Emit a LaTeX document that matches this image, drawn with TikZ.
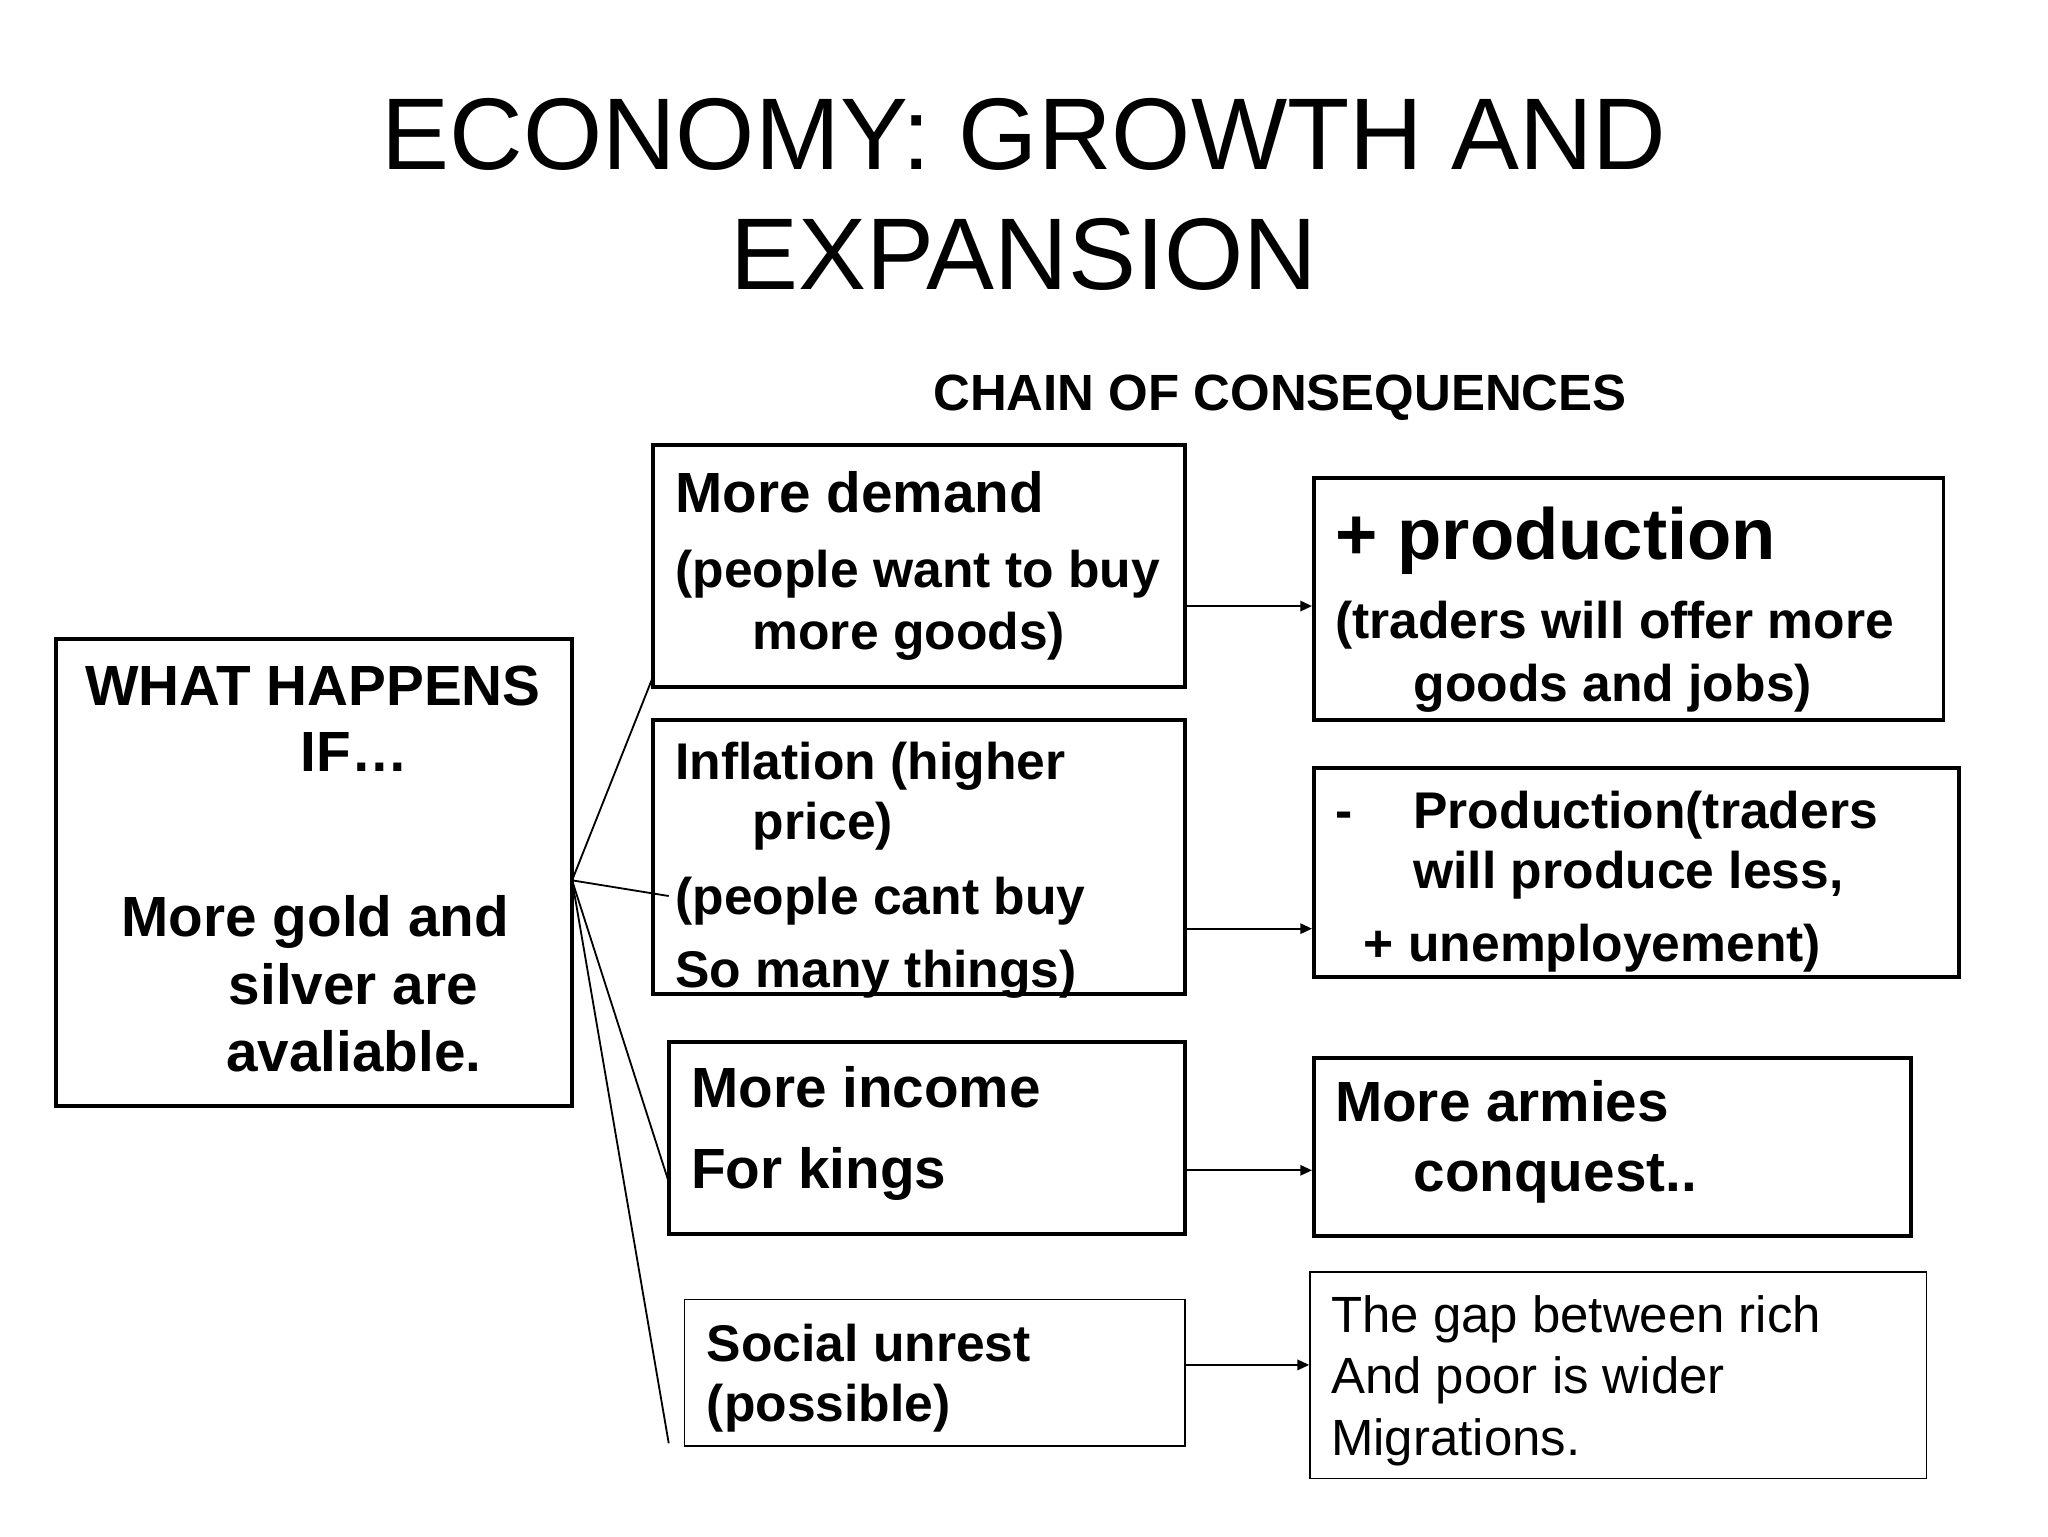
\documentclass[tikz,border=0pt]{standalone}
\usepackage{fontspec}
\setmainfont{Liberation Sans}
\usetikzlibrary{fit,arrows.meta}
\begin{document}
\begin{tikzpicture}[x=1pt,y=-1pt,
  thickbox/.style={draw, line width=3pt, inner sep=0pt},
  thinbox/.style={draw, line width=1.3pt, inner sep=0pt},
  bt/.style={font=\bfseries\fontsize{39.5}{39.5}\selectfont, anchor=base west, inner sep=0pt},
  bth/.style={font=\bfseries\fontsize{43.4}{43.4}\selectfont, anchor=base west, inner sep=0pt},
  rt/.style={font=\fontsize{39}{39}\selectfont, anchor=base west, inner sep=0pt},
  arr/.style={line width=1.4pt, -{Triangle[length=9pt,width=8pt]}},
  fan/.style={line width=1.4pt}]
\useasboundingbox (0,0) rectangle (1568,1176);
% title
\node[font=\fontsize{78}{78}\selectfont, anchor=base, inner sep=0pt] (t1) at (784,130) {ECONOMY: GROWTH AND};
\node[font=\fontsize{78}{78}\selectfont, anchor=base, inner sep=0pt] (t2) at (784,222) {EXPANSION};
\node[font=\bfseries\fontsize{39}{39}\selectfont, anchor=base, inner sep=0pt] (chain) at (980,314) {CHAIN OF CONSEQUENCES};
% boxes
\node[thickbox, fit={(43,489) (438,847)}] (lb) {};
\node[thickbox, fit={(500,341) (907,526)}] (md) {};
\node[thickbox, fit={(500,551) (907,761)}] (inf) {};
\node[thickbox, fit={(512,798) (907,945)}] (mi) {};
\node[thinbox, fit={(524,995) (907,1107)}] (su) {};
\node[thickbox, fit={(1006,366) (1488,551)}] (pp) {};
\node[thickbox, fit={(1006,588) (1500,748)}] (mp) {};
\node[thickbox, fit={(1006,810) (1463,946)}] (ma) {};
\node[thinbox, fit={(1003,974) (1475,1132)}] (gap) {};
% left box text
\node[bth] (l1) at (65,540) {WHAT HAPPENS};
\node[bth] (l2) at (230,591) {IF…};
\node[bth] (l3) at (93,717) {More gold and};
\node[bth] (l4) at (175,769) {silver are};
\node[bth] (l5) at (173,820) {avaliable.};
% more demand
\node[bth] (m1) at (517,392) {More demand};
\node[bt] (m2) at (517,450) {(people want to buy};
\node[bt] (m3) at (576,497) {more goods)};
% inflation
\node[bt] (i1) at (517,597) {Inflation (higher};
\node[bt] (i2) at (576,643) {price)};
\node[bt] (i3) at (517,700) {(people cant buy};
\node[bt] (i4) at (517,756) {So many things)};
% more income
\node[bth] (k1) at (529,848) {More income};
\node[bth] (k2) at (529,910) {For kings};
% social unrest
\node[bt] (s1) at (541,1042) {Social unrest};
\node[bt] (s2) at (541,1088) {(possible)};
% + production
\node[font=\bfseries\fontsize{55.5}{55.5}\selectfont, anchor=base west, inner sep=0pt] (p1) at (1022,428) {+ production};
\node[bt] (p2) at (1022,489) {(traders will offer more};
\node[bt] (p3) at (1082,537) {goods and jobs)};
% - production
\node[bt] (q0) at (1022,634) {-};
\node[bt] (q1) at (1082,634) {Production(traders};
\node[bt] (q2) at (1082,680) {will produce less,};
\node[bt] (q3) at (1044,736) {+ unemployement)};
% more armies
\node[bth] (a1) at (1022,859) {More armies};
\node[bth] (a2) at (1082,912) {conquest..};
% gap
\node[rt] (g1) at (1019,1020) {The gap between rich};
\node[rt] (g2) at (1019,1067) {And poor is wider};
\node[rt] (g3) at (1019,1114) {Migrations.};
% arrows
\coordinate (y1) at (0,464);
\coordinate (y2) at (0,711);
\coordinate (y3) at (0,896);
\coordinate (y4) at (0,1045);
\draw[arr] (md.east |- y1) -- (pp.west |- y1);
\draw[arr] (inf.east |- y2) -- (mp.west |- y2);
\draw[arr] (mi.east |- y3) -- (ma.west |- y3);
\draw[arr] (su.east |- y4) -- (gap.west |- y4);
% fan
\coordinate (o) at (438,674);
\coordinate (f1) at (500,518);
\coordinate (f2) at (512,686);
\coordinate (f3) at (512,905);
\coordinate (f4) at (512,1105);
\draw[fan] (o) -- (f1);
\draw[fan] (o) -- (f2);
\draw[fan] (o) -- (f3);
\draw[fan] (o) -- (f4);
\end{tikzpicture}
\end{document}
